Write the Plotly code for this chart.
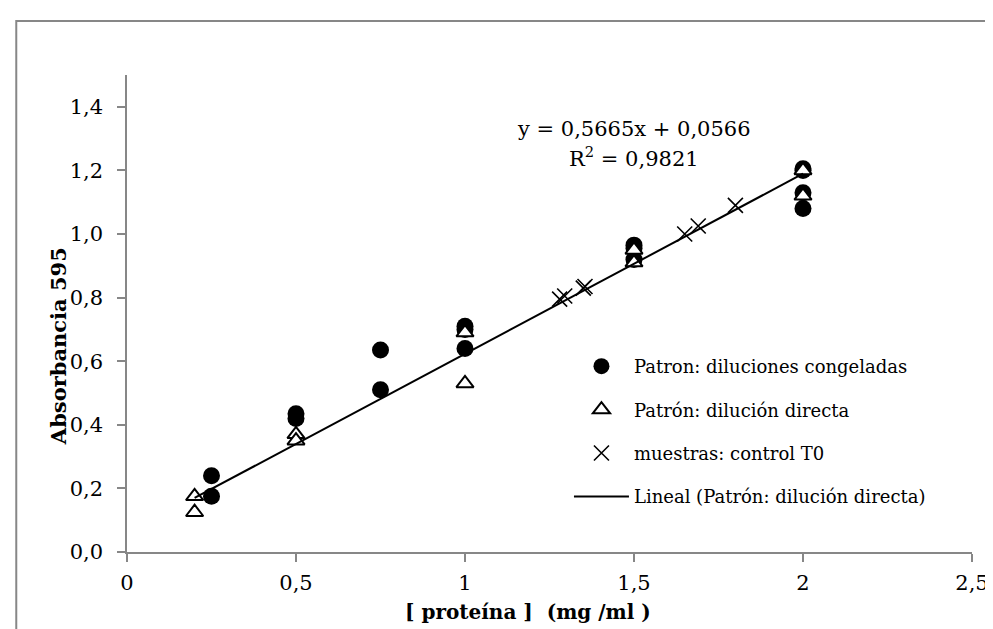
import plotly.graph_objects as go

# --- data ---
congeladas_x = [0.25, 0.25, 0.5, 0.5, 0.75, 0.75, 1.0, 1.0, 1.0, 1.5, 1.5, 1.5, 2.0, 2.0, 2.0, 2.0]
congeladas_y = [0.175, 0.24, 0.435, 0.42, 0.635, 0.51, 0.71, 0.70, 0.64, 0.965, 0.955, 0.92, 1.205, 1.20, 1.13, 1.08]

directa_x = [0.2, 0.2, 0.5, 0.5, 1.0, 1.0, 1.5, 1.5, 2.0, 2.0]
directa_y = [0.175, 0.125, 0.37, 0.35, 0.69, 0.53, 0.95, 0.91, 1.20, 1.12]

muestras_x = [1.28, 1.295, 1.35, 1.355, 1.65, 1.69, 1.80]
muestras_y = [0.795, 0.805, 0.83, 0.835, 1.00, 1.025, 1.09]

trend_slope = 0.5665
trend_intercept = 0.0566
trend_r2 = 0.9821
trend_x = [min(directa_x), max(directa_x)]

x_tickvals = [0, 0.5, 1, 1.5, 2, 2.5]
x_ticktext = ["0", "0,5", "1", "1,5", "2", "2,5"]
y_tickvals = [0, 0.2, 0.4, 0.6, 0.8, 1.0, 1.2, 1.4]
y_ticktext = ["0,0", "0,2", "0,4", "0,6", "0,8", "1,0", "1,2", "1,4"]

FONT = "DejaVu Serif"

fig = go.Figure()
fig.add_trace(go.Scatter(
    x=congeladas_x, y=congeladas_y, mode="markers",
    name="Patron: diluciones congeladas", legendgroup="a",
    marker=dict(symbol="circle", size=17, color="black"),
))
fig.add_trace(go.Scatter(
    x=directa_x, y=directa_y, mode="markers",
    name="Patrón: dilución directa", legendgroup="b",
    marker=dict(symbol="triangle-up", size=15, color="white",
                line=dict(color="black", width=2)),
))
fig.add_trace(go.Scatter(
    x=muestras_x, y=muestras_y, mode="markers",
    name="muestras: control T0", legendgroup="c",
    marker=dict(symbol="x-thin", size=15, color="black",
                line=dict(color="black", width=1.6)),
))
fig.add_trace(go.Scatter(
    x=trend_x, y=[trend_slope * v + trend_intercept for v in trend_x],
    mode="lines", name="Lineal (Patrón: dilución directa)", legendgroup="d",
    line=dict(color="black", width=2),
))

L, R, T, B = 119, 27, 67, 85
W, H = 993, 629
pw, ph = W - L - R, H - T - B

def px_x(p):
    return (p - L) / pw

def px_y(p):
    return (H - B - p) / ph

eq_line1 = (f"y = {trend_slope:.4f}x + {trend_intercept:.4f}").replace(".", ",")
eq_line2 = "R<sup>2</sup> = " + f"{trend_r2:.4f}".replace(".", ",")

fig.update_layout(
    width=W, height=H,
    margin=dict(l=L, r=R, t=T, b=B),
    paper_bgcolor="white", plot_bgcolor="white",
    font=dict(family=FONT, color="black", size=20),
    showlegend=True,
    legend=dict(
        x=px_x(562), y=px_y(340), xanchor="left", yanchor="top",
        font=dict(family=FONT, size=18, color="black"),
        bgcolor="rgba(0,0,0,0)", traceorder="grouped", tracegroupgap=17,
        itemwidth=55,
    ),
    xaxis=dict(
        range=[0, 2.5], tickvals=x_tickvals, ticktext=x_ticktext,
        showgrid=False, zeroline=False, showline=True,
        linecolor="#878787", linewidth=1.5,
        ticks="outside", ticklen=8, tickcolor="#878787", tickwidth=1.5,
        ticklabelstandoff=3,
        tickfont=dict(family=FONT, size=21, color="black"),
    ),
    yaxis=dict(
        range=[0, 1.5], tickvals=y_tickvals, ticktext=y_ticktext,
        showgrid=False, zeroline=False, showline=True,
        linecolor="#878787", linewidth=1.5,
        ticks="outside", ticklen=8, tickcolor="#878787", tickwidth=1.5,
        ticklabelstandoff=10,
        tickfont=dict(family=FONT, size=21, color="black"),
    ),
    annotations=[
        dict(text="<b>Absorbancia 595</b>", textangle=-90, showarrow=False,
             xref="paper", yref="paper", x=px_x(50), y=px_y(338),
             xanchor="center", yanchor="middle",
             font=dict(family=FONT, size=21, color="black")),
        dict(text="<b>[ proteína ]&nbsp; (mg /ml )</b>", showarrow=False,
             xref="paper", yref="paper", x=px_x(521), y=px_y(604),
             xanchor="center", yanchor="middle",
             font=dict(family=FONT, size=20, color="black")),
        dict(text=eq_line1,
             showarrow=False, xref="paper", yref="paper",
             x=px_x(627), y=px_y(121), xanchor="center", yanchor="middle",
             align="center", font=dict(family=FONT, size=21, color="black")),
        dict(text=eq_line2,
             showarrow=False, xref="paper", yref="paper",
             x=px_x(627), y=px_y(149), xanchor="center", yanchor="middle",
             align="center", font=dict(family=FONT, size=21, color="black")),
    ],
    shapes=[
        dict(type="rect", xref="paper", yref="paper",
             x0=px_x(8), y0=px_y(700), x1=px_x(1100), y1=px_y(13),
             line=dict(color="#878787", width=2), fillcolor="rgba(0,0,0,0)",
             layer="below"),
    ],
)

fig.write_html("out.html")
